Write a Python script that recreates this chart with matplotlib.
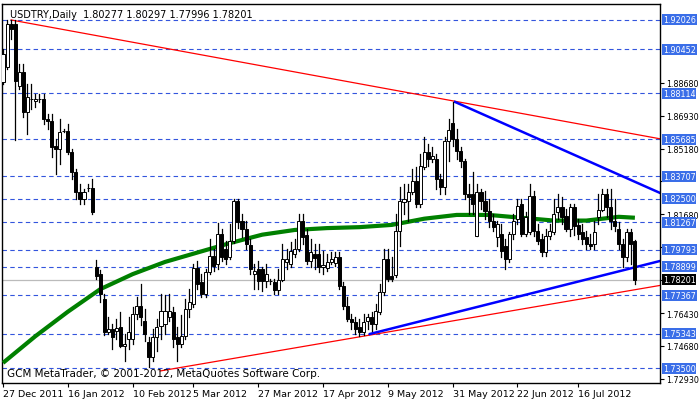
import matplotlib
matplotlib.use("Agg")
import matplotlib.pyplot as plt
from matplotlib.patches import Rectangle

ohlc_rows = """
1.8872 1.9048 1.8862 1.9021
1.8952 1.9202 1.8942 1.9181
1.9181 1.9202 1.9101 1.9154
1.9181 1.9202 1.8564 1.8878
1.8851 1.8968 1.8835 1.8926
1.8926 1.8968 1.8686 1.8713
1.8713 1.8862 1.8596 1.8793
1.8782 1.8862 1.8729 1.8782
1.8771 1.8809 1.8739 1.8782
1.8782 1.8809 1.8766 1.8782
1.8782 1.8809 1.8649 1.8676
1.8676 1.8702 1.8622 1.8665
1.8665 1.8702 1.8473 1.8527
1.8532 1.8569 1.8383 1.8516
1.8516 1.8676 1.8436 1.8606
1.8612 1.8622 1.8606 1.8612
1.8612 1.8649 1.8489 1.8500
1.8500 1.8516 1.8356 1.8394
1.8394 1.8410 1.8250 1.8287
1.8287 1.8330 1.8223 1.8250
1.8250 1.8303 1.8223 1.8287
1.8309 1.8330 1.8293 1.8309
1.8309 1.8356 1.8170 1.8181
1.7888 1.7925 1.7824 1.7840
1.7851 1.7872 1.7702 1.7745
1.7718 1.7745 1.7526 1.7542
1.7542 1.7622 1.7532 1.7558
1.7558 1.7585 1.7452 1.7516
1.7548 1.7612 1.7505 1.7564
1.7569 1.7649 1.7463 1.7468
1.7468 1.7532 1.7388 1.7479
1.7505 1.7622 1.7452 1.7542
1.7505 1.7675 1.7479 1.7638
1.7638 1.7729 1.7612 1.7681
1.7681 1.7798 1.7580 1.7622
1.7601 1.7665 1.7495 1.7532
1.7489 1.7516 1.7356 1.7409
1.7409 1.7558 1.7388 1.7516
1.7516 1.7612 1.7441 1.7569
1.7574 1.7745 1.7505 1.7654
1.7585 1.7739 1.7532 1.7654
1.7622 1.7745 1.7601 1.7654
1.7649 1.7675 1.7463 1.7505
1.7516 1.7569 1.7388 1.7479
1.7479 1.7633 1.7463 1.7521
1.7521 1.7718 1.7505 1.7665
1.7665 1.7771 1.7622 1.7702
1.7691 1.7904 1.7675 1.7883
1.7883 1.7920 1.7771 1.7798
1.7808 1.7851 1.7729 1.7745
1.7745 1.7878 1.7729 1.7862
1.7862 1.8037 1.7851 1.7947
1.7947 1.7984 1.7867 1.7894
1.7904 1.8122 1.7878 1.8064
1.8064 1.8090 1.7920 1.7941
1.7984 1.8027 1.7904 1.7931
1.7941 1.8117 1.7931 1.8027
1.8027 1.8250 1.8016 1.8239
1.8239 1.8250 1.8096 1.8128
1.8133 1.8170 1.8048 1.8090
1.8090 1.8133 1.7984 1.8010
1.8005 1.8037 1.7851 1.7878
1.7851 1.7904 1.7771 1.7867
1.7878 1.7920 1.7771 1.7814
1.7878 1.7888 1.7761 1.7814
1.7814 1.7904 1.7782 1.7851
1.7814 1.7824 1.7798 1.7814
1.7808 1.7824 1.7745 1.7766
1.7766 1.7878 1.7745 1.7819
1.7819 1.8011 1.7814 1.7931
1.7915 1.7984 1.7878 1.7931
1.7904 1.8021 1.7888 1.7973
1.7957 1.8037 1.7941 1.7984
1.7984 1.8170 1.7973 1.8133
1.8133 1.8170 1.8011 1.8048
1.8058 1.8090 1.7904 1.7920
1.7920 1.8037 1.7888 1.7968
1.7957 1.8011 1.7878 1.7936
1.7957 1.8011 1.7862 1.7888
1.7888 1.7973 1.7851 1.7899
1.7883 1.7957 1.7867 1.7915
1.7915 1.7968 1.7904 1.7931
1.7910 1.7968 1.7894 1.7941
1.7941 1.7968 1.7771 1.7787
1.7787 1.7808 1.7665 1.7681
1.7681 1.7729 1.7601 1.7612
1.7612 1.7638 1.7558 1.7596
1.7596 1.7622 1.7532 1.7558
1.7569 1.7612 1.7521 1.7542
1.7542 1.7638 1.7526 1.7596
1.7601 1.7638 1.7558 1.7622
1.7622 1.7649 1.7548 1.7585
1.7585 1.7691 1.7558 1.7654
1.7649 1.7798 1.7638 1.7755
1.7755 1.7984 1.7739 1.7931
1.7931 1.7984 1.7814 1.7824
1.7840 1.7941 1.7814 1.7824
1.7846 1.8170 1.7835 1.8080
1.8080 1.8314 1.8000 1.8239
1.8234 1.8330 1.8170 1.8250
1.8239 1.8330 1.8133 1.8287
1.8287 1.8410 1.8277 1.8346
1.8346 1.8420 1.8207 1.8223
1.8223 1.8489 1.8207 1.8426
1.8420 1.8580 1.8410 1.8500
1.8500 1.8543 1.8426 1.8463
1.8463 1.8527 1.8447 1.8479
1.8463 1.8489 1.8303 1.8356
1.8356 1.8383 1.8277 1.8314
1.8314 1.8580 1.8277 1.8559
1.8559 1.8676 1.8452 1.8617
1.8654 1.8766 1.8532 1.8569
1.8569 1.8622 1.8463 1.8505
1.8505 1.8527 1.8420 1.8452
1.8452 1.8463 1.8250 1.8277
1.8277 1.8330 1.8170 1.8261
1.8277 1.8394 1.8170 1.8223
1.8053 1.8330 1.8053 1.8287
1.8287 1.8303 1.8197 1.8239
1.8239 1.8293 1.8144 1.8186
1.8186 1.8250 1.8101 1.8133
1.8133 1.8170 1.8080 1.8101
1.8048 1.8133 1.8000 1.8117
1.8064 1.8117 1.7941 1.7973
1.8000 1.8037 1.7878 1.7931
1.7931 1.8074 1.7915 1.8064
1.8064 1.8170 1.8037 1.8133
1.8144 1.8250 1.8117 1.8213
1.8223 1.8250 1.8053 1.8064
1.8064 1.8181 1.8053 1.8154
1.8074 1.8330 1.8064 1.8266
1.8266 1.8293 1.8053 1.8080
1.8080 1.8117 1.8011 1.8027
1.8037 1.8064 1.7947 1.7968
1.7968 1.8090 1.7947 1.8053
1.8053 1.8117 1.8037 1.8080
1.8074 1.8250 1.8064 1.8170
1.8181 1.8277 1.8144 1.8207
1.8207 1.8261 1.8117 1.8154
1.8160 1.8197 1.8080 1.8090
1.8090 1.8223 1.8053 1.8207
1.8207 1.8223 1.8058 1.8106
1.8112 1.8144 1.8037 1.8064
1.8074 1.8117 1.8011 1.8037
1.8048 1.8080 1.7984 1.8010
1.8010 1.8064 1.7984 1.8000
1.8010 1.8133 1.7984 1.8074
1.8154 1.8277 1.8117 1.8192
1.8192 1.8303 1.8186 1.8277
1.8277 1.8303 1.8154 1.8207
1.8207 1.8303 1.8090 1.8133
1.8133 1.8250 1.8080 1.8106
1.8090 1.8128 1.7984 1.8010
1.8010 1.8037 1.7888 1.7941
1.7941 1.8090 1.7920 1.8074
1.8074 1.8090 1.7904 1.8010
1.80277 1.80297 1.77996 1.78201
"""
rows = [list(map(float, r.split())) for r in ohlc_rows.strip().splitlines()]
opens = [r[0] for r in rows]
highs = [r[1] for r in rows]
lows = [r[2] for r in rows]
closes = [r[3] for r in rows]

ma_idx = [0, 8, 16, 24, 32, 40, 48, 56, 64, 72, 80, 88, 96, 104, 112, 120, 128, 136, 144, 152, 156]
ma_val = [1.7378, 1.7520, 1.7650, 1.7770, 1.7850, 1.7915, 1.7965, 1.8015, 1.8060, 1.8085, 1.8095, 1.8100,
          1.8112, 1.8145, 1.8165, 1.8165, 1.8150, 1.8135, 1.8135, 1.8155, 1.8150]

level_prices = [1.92026, 1.90452, 1.88114, 1.85685, 1.83707, 1.82500, 1.81267, 1.79793, 1.78899, 1.77367, 1.75343, 1.73500]
axis_ticks = [1.88680, 1.86930, 1.85180, 1.83430, 1.81680, 1.79930, 1.78180, 1.76430, 1.74680, 1.72930]
hidden_ticks = [1.83430, 1.79930, 1.78180]
last_price = 1.78201
date_idx = [0, 16, 32, 47, 63, 79, 95, 111, 127, 142]
date_labels = ["27 Dec 2011", "16 Jan 2012", "10 Feb 2012", "5 Mar 2012", "27 Mar 2012",
               "17 Apr 2012", "9 May 2012", "31 May 2012", "22 Jun 2012", "16 Jul 2012"]

red_upper = ([2, 162.2], [1.9202, 1.8570])
red_lower = ([38.8, 162.2], [1.7335, 1.7790])
blue_lower = ([90.6, 162.2], [1.7532, 1.7920])
blue_upper = ([111.6, 162.2], [1.8766, 1.8282])

W, H = 700, 402
fig = plt.figure(figsize=(W/100, H/100), dpi=100)
fig.patch.set_facecolor("white")
ax = fig.add_axes([2/W, (H-384)/H, 658/W, 379/H])
ax.set_xlim(-0.25, 162.2)
ax.set_ylim(1.7271, 1.9287)

for p in level_prices:
    ax.axhline(p, color="#3355dd", lw=0.8, ls=(0, (4, 3)), zorder=1)
ax.axhline(last_price, color="#bbbbbb", lw=0.9, zorder=1)

ax.plot(*red_upper, color="red", lw=0.9, zorder=2)
ax.plot(*red_lower, color="red", lw=0.9, zorder=2)
ax.plot(*blue_lower, color="blue", lw=1.8, zorder=2)
ax.plot(*blue_upper, color="blue", lw=1.8, zorder=2)
ax.plot(ma_idx, ma_val, color="green", lw=3, zorder=3, solid_capstyle="butt")

for i, (o, h, l, c) in enumerate(zip(opens, highs, lows, closes)):
    ax.plot([i, i], [l, h], color="black", lw=0.9, zorder=4)
    bot, top = min(o, c), max(o, c)
    hgt = max(top - bot, 0.00015)
    ax.add_patch(Rectangle((i - 0.38, bot), 0.76, hgt, facecolor="white" if c >= o else "black",
                           edgecolor="black", lw=0.7, zorder=5))

for s in ax.spines.values():
    s.set_color("black"); s.set_linewidth(1)
ax.yaxis.tick_right()
ax.set_yticks(axis_ticks)
ax.set_yticklabels(["" if t in hidden_ticks else f"{t:.5f}" for t in axis_ticks], fontsize=5.8)
ax.tick_params(axis="y", length=3, pad=1.5)
ax.set_xticks(date_idx)
ax.set_xticklabels(date_labels, fontsize=6.8, ha="left")
ax.tick_params(axis="x", length=3, pad=1)

for p in level_prices:
    ax.annotate(f"{p:.5f}", xy=(1, p), xycoords=("axes fraction", "data"), xytext=(2, 0),
                textcoords="offset points", va="center", ha="left", fontsize=5.8, color="white",
                bbox=dict(boxstyle="square,pad=0.12", fc="#3a6ee8", ec="none"), annotation_clip=False)
ax.annotate(f"{last_price:.5f}", xy=(1, last_price), xycoords=("axes fraction", "data"), xytext=(2, 0),
            textcoords="offset points", va="center", ha="left", fontsize=5.8, color="white",
            bbox=dict(boxstyle="square,pad=0.12", fc="black", ec="none"), annotation_clip=False)

ax.text(0.012, 0.988, "USDTRY,Daily  1.80277 1.80297 1.77996 1.78201", transform=ax.transAxes,
        fontsize=7, va="top", ha="left", zorder=6)
ax.text(0.008, 0.012, "GCM MetaTrader, © 2001-2012, MetaQuotes Software Corp.", transform=ax.transAxes,
        fontsize=7.5, va="bottom", ha="left", zorder=6)

fig.savefig("out.png", dpi=100)
